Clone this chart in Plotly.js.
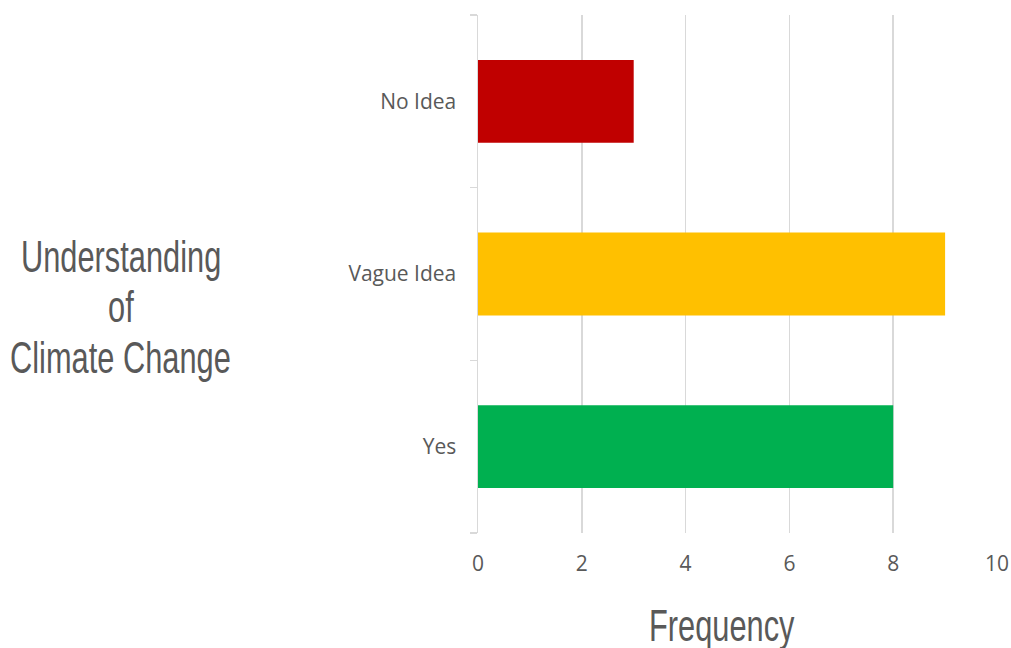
<!DOCTYPE html>
<html>
<head>
<meta charset="utf-8">
<script src="https://cdn.plot.ly/plotly-3.0.1.min.js"></script>
<style>
html,body{margin:0;padding:0;background:#fff;}
#chart{width:1011px;height:648px;}
.annotation-text{transform-box:fill-box;transform-origin:center;transform:scaleX(0.70);}
</style>
</head>
<body>
<div id="chart"></div>
<script>
const categories = ["Yes", "Vague Idea", "No Idea"];
const frequency = [8, 9, 3];
const barColors = ["#00B050", "#FFC000", "#C00000"];
const xTicks = [0, 2, 4, 6, 8, 10];
const yTitleLines = ["Understanding", "of", "Climate Change"];
const xTitle = "Frequency";

const grid = "#d9d9d9";
const labelFont = {family: "Open Sans, sans-serif", size: 21, color: "#595959"};
const titleFont = {family: "Liberation Sans, Arial, sans-serif", size: 44, color: "#595959"};

const data = [{
  type: "bar",
  orientation: "h",
  y: categories,
  x: frequency,
  marker: {color: barColors},
  hoverinfo: "none"
}];

const plotTop = 15, plotH = 518;
const lineCenters = [257, 307, 358];
const annotations = yTitleLines.map((t, i) => ({
  text: t, xref: "paper", yref: "paper", x: -0.688,
  y: (plotTop + plotH - lineCenters[i]) / plotH,
  xanchor: "center", yanchor: "middle", showarrow: false, font: titleFont
}));
annotations.push({text: xTitle, xref: "paper", yref: "paper", x: 0.469, y: (plotTop + plotH - 626) / plotH,
  xanchor: "center", yanchor: "middle", showarrow: false, font: titleFont});

const layout = {
  width: 1011, height: 648,
  margin: {l: 478, r: 14, t: 15, b: 115},
  paper_bgcolor: "#fff", plot_bgcolor: "#fff",
  showlegend: false,
  bargap: 0.52,
  xaxis: {
    range: [0, 10],
    tickvals: xTicks,
    showgrid: true, gridcolor: grid, gridwidth: 1.5,
    zeroline: false, showline: false, ticks: "",
    tickfont: labelFont,
    ticklabelstandoff: 16,
    fixedrange: true
  },
  yaxis: {
    type: "category",
    categoryorder: "array", categoryarray: categories,
    range: [-0.5, 2.5],
    showgrid: false, zeroline: false,
    showline: true, linecolor: grid, linewidth: 1.5,
    ticks: "outside", tickson: "boundaries", ticklen: 7, tickcolor: grid, tickwidth: 1.5,
    tickfont: labelFont,
    ticklabelstandoff: 16,
    fixedrange: true
  },
  annotations: annotations
};

Plotly.newPlot("chart", data, layout, {staticPlot: true, displayModeBar: false});
</script>
</body>
</html>
